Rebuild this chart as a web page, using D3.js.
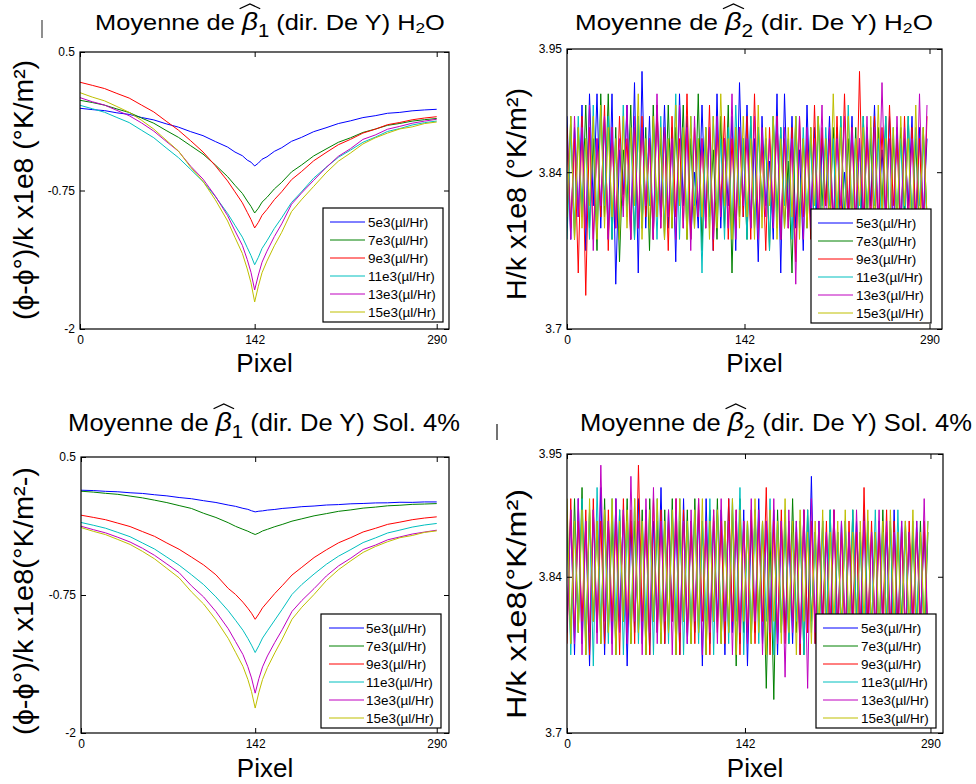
<!DOCTYPE html>
<html><head><meta charset="utf-8">
<script src="https://cdn.jsdelivr.net/npm/d3@7"></script>
<style>body{margin:0;background:#fff}svg{display:block}</style>
</head><body>
<svg id="c" width="976" height="784"></svg>
<script>
// ---------- data ----------
const seriesNames = ["5e3(µl/Hr)","7e3(µl/Hr)","9e3(µl/Hr)","11e3(µl/Hr)","13e3(µl/Hr)","15e3(µl/Hr)"];
const seriesColors = ["#0000ff","#008000","#ff0000","#00bfbf","#bf00bf","#bfbf00"];
const xTicks = [0,142,290];
const yTicksB1 = [-2,-0.75,0.5];
const yTicksB2 = [3.7,3.84,3.95];

const pixelsB1 = [0,10,20,30,40,50,60,70,80,90,100,110,120,126,132,136,139,142,145,148,152,158,164,172,180,190,200,210,220,230,240,250,260,270,280,290];

const b1H2O_5e3  = [-0.008,-0.020,-0.029,-0.049,-0.063,-0.091,-0.113,-0.148,-0.178,-0.219,-0.255,-0.308,-0.358,-0.403,-0.436,-0.476,-0.494,-0.529,-0.503,-0.468,-0.446,-0.397,-0.364,-0.306,-0.271,-0.219,-0.184,-0.146,-0.121,-0.092,-0.075,-0.053,-0.045,-0.031,-0.023,-0.017];
const b1H2O_7e3  = [0.064,0.044,0.020,-0.014,-0.046,-0.096,-0.143,-0.208,-0.270,-0.346,-0.421,-0.519,-0.625,-0.703,-0.776,-0.845,-0.893,-0.953,-0.910,-0.855,-0.812,-0.736,-0.676,-0.582,-0.521,-0.438,-0.376,-0.315,-0.274,-0.226,-0.196,-0.162,-0.145,-0.124,-0.111,-0.100];
const b1H2O_9e3  = [0.227,0.199,0.170,0.126,0.084,0.021,-0.041,-0.124,-0.205,-0.301,-0.402,-0.526,-0.664,-0.762,-0.861,-0.947,-1.012,-1.088,-1.038,-0.974,-0.921,-0.833,-0.761,-0.652,-0.580,-0.482,-0.408,-0.337,-0.288,-0.232,-0.197,-0.156,-0.136,-0.112,-0.096,-0.084];
const b1H2O_11e3 = [0.019,-0.012,-0.044,-0.091,-0.137,-0.206,-0.274,-0.365,-0.453,-0.560,-0.669,-0.804,-0.957,-1.064,-1.171,-1.266,-1.337,-1.420,-1.353,-1.273,-1.204,-1.092,-0.996,-0.858,-0.763,-0.638,-0.542,-0.451,-0.385,-0.315,-0.269,-0.217,-0.191,-0.159,-0.138,-0.123];
const b1H2O_13e3 = [0.088,0.051,0.021,-0.027,-0.075,-0.140,-0.214,-0.306,-0.395,-0.531,-0.647,-0.800,-0.977,-1.114,-1.245,-1.374,-1.488,-1.648,-1.513,-1.397,-1.298,-1.166,-1.051,-0.874,-0.774,-0.658,-0.543,-0.442,-0.372,-0.289,-0.249,-0.197,-0.171,-0.143,-0.124,-0.107];
const b1H2O_15e3 = [0.133,0.093,0.059,0.008,-0.045,-0.116,-0.196,-0.295,-0.393,-0.541,-0.667,-0.834,-1.025,-1.174,-1.318,-1.458,-1.582,-1.756,-1.614,-1.492,-1.387,-1.249,-1.127,-0.940,-0.834,-0.713,-0.591,-0.486,-0.411,-0.330,-0.275,-0.232,-0.194,-0.176,-0.146,-0.132];

const b1Sol_5e3  = [0.199,0.196,0.189,0.185,0.176,0.170,0.158,0.148,0.133,0.122,0.104,0.088,0.065,0.053,0.035,0.026,0.013,0.003,0.009,0.012,0.019,0.025,0.034,0.041,0.050,0.056,0.065,0.069,0.076,0.079,0.084,0.085,0.090,0.089,0.093,0.093];
const b1Sol_7e3  = [0.190,0.182,0.171,0.162,0.146,0.130,0.109,0.087,0.060,0.034,-0.010,-0.048,-0.095,-0.128,-0.155,-0.172,-0.188,-0.202,-0.188,-0.170,-0.155,-0.131,-0.111,-0.081,-0.060,-0.033,-0.013,0.008,0.021,0.037,0.046,0.058,0.063,0.071,0.074,0.078];
const b1Sol_9e3  = [-0.027,-0.047,-0.068,-0.099,-0.130,-0.175,-0.219,-0.279,-0.336,-0.406,-0.478,-0.567,-0.690,-0.745,-0.815,-0.870,-0.915,-0.970,-0.921,-0.866,-0.814,-0.736,-0.666,-0.569,-0.499,-0.411,-0.341,-0.277,-0.230,-0.179,-0.146,-0.110,-0.090,-0.068,-0.053,-0.042];
const b1Sol_11e3 = [-0.093,-0.118,-0.145,-0.183,-0.222,-0.278,-0.334,-0.407,-0.480,-0.566,-0.656,-0.767,-0.892,-0.979,-1.069,-1.143,-1.204,-1.271,-1.209,-1.140,-1.074,-0.977,-0.880,-0.745,-0.655,-0.560,-0.472,-0.398,-0.338,-0.275,-0.233,-0.188,-0.162,-0.135,-0.116,-0.102];
const b1Sol_13e3 = [-0.127,-0.158,-0.187,-0.227,-0.270,-0.326,-0.391,-0.469,-0.548,-0.666,-0.768,-0.900,-1.055,-1.172,-1.289,-1.399,-1.501,-1.639,-1.508,-1.401,-1.302,-1.179,-1.065,-0.899,-0.800,-0.692,-0.578,-0.486,-0.416,-0.338,-0.298,-0.250,-0.224,-0.198,-0.180,-0.163];
const b1Sol_15e3 = [-0.139,-0.173,-0.203,-0.247,-0.292,-0.354,-0.423,-0.509,-0.595,-0.721,-0.832,-0.975,-1.143,-1.269,-1.396,-1.514,-1.625,-1.774,-1.632,-1.515,-1.407,-1.274,-1.150,-0.970,-0.861,-0.745,-0.620,-0.520,-0.440,-0.364,-0.311,-0.267,-0.231,-0.211,-0.183,-0.169];

const pixelsB2 = [0,3,6,9,12,15,18,21,24,27,30,33,36,39,42,45,48,51,54,57,60,63,66,69,72,75,78,81,84,87,90,93,96,99,102,105,108,111,114,117,120,123,126,129,132,135,138,141,144,147,150,153,156,159,162,165,168,171,174,177,180,183,186,189,192,195,198,201,204,207,210,213,216,219,222,225,228,231,234,237,240,243,246,249,252,255,258,261,264,267,270,273,276,279,282,285,288];

const b2H2O_5e3 = [3.89,3.78,3.88,3.80,3.90,3.77,3.91,3.81,3.91,3.79,3.89,3.78,3.91,3.74,3.86,3.82,3.90,3.78,3.92,3.75,3.93,3.79,3.89,3.78,3.90,3.80,3.90,3.79,3.88,3.76,3.91,3.81,3.89,3.78,3.84,3.79,3.90,3.80,3.88,3.77,3.91,3.79,3.87,3.81,3.89,3.77,3.92,3.80,3.90,3.79,3.87,3.76,3.89,3.81,3.85,3.78,3.91,3.75,3.91,3.80,3.89,3.79,3.86,3.77,3.90,3.80,3.88,3.74,3.87,3.81,3.89,3.79,3.88,3.78,3.84,3.80,3.89,3.79,3.87,3.77,3.88,3.81,3.90,3.79,3.86,3.80,3.89,3.78,3.88,3.79,3.87,3.81,3.89,3.78,3.88,3.80,3.87];
const b2H2O_7e3 = [3.79,3.89,3.78,3.88,3.80,3.90,3.79,3.87,3.77,3.91,3.80,3.91,3.78,3.88,3.76,3.86,3.81,3.90,3.78,3.89,3.79,3.88,3.77,3.90,3.80,3.87,3.78,3.90,3.79,3.88,3.81,3.90,3.78,3.87,3.79,3.91,3.77,3.88,3.80,3.86,3.78,3.89,3.79,3.90,3.75,3.88,3.80,3.87,3.78,3.89,3.79,3.88,3.81,3.87,3.77,3.89,3.80,3.88,3.79,3.85,3.75,3.89,3.80,3.87,3.79,3.88,3.78,3.89,3.81,3.87,3.79,3.88,3.78,3.89,3.80,3.87,3.79,3.88,3.76,3.89,3.80,3.87,3.79,3.88,3.81,3.89,3.78,3.87,3.79,3.88,3.80,3.89,3.79,3.87,3.78,3.88,3.80];
const b2H2O_9e3 = [3.88,3.79,3.87,3.75,3.89,3.73,3.88,3.78,3.87,3.80,3.90,3.77,3.88,3.79,3.89,3.81,3.87,3.78,3.88,3.79,3.89,3.80,3.87,3.78,3.90,3.79,3.88,3.77,3.89,3.80,3.87,3.79,3.91,3.78,3.88,3.80,3.87,3.79,3.90,3.77,3.88,3.81,3.89,3.78,3.87,3.79,3.88,3.80,3.89,3.78,3.91,3.79,3.87,3.77,3.88,3.80,3.89,3.78,3.87,3.79,3.88,3.76,3.89,3.80,3.87,3.78,3.90,3.79,3.88,3.81,3.87,3.78,3.89,3.79,3.91,3.80,3.88,3.78,3.93,3.79,3.87,3.80,3.89,3.78,3.88,3.79,3.90,3.81,3.87,3.78,3.89,3.79,3.88,3.80,3.87,3.78,3.89];
const b2H2O_11e3 = [3.78,3.88,3.79,3.89,3.80,3.87,3.78,3.90,3.79,3.90,3.81,3.89,3.78,3.87,3.79,3.90,3.80,3.88,3.78,3.89,3.79,3.87,3.81,3.88,3.78,3.89,3.79,3.87,3.80,3.91,3.78,3.88,3.79,3.89,3.81,3.87,3.75,3.88,3.79,3.89,3.80,3.87,3.78,3.88,3.79,3.90,3.81,3.87,3.78,3.89,3.79,3.88,3.80,3.87,3.77,3.89,3.79,3.88,3.81,3.87,3.78,3.89,3.79,3.88,3.80,3.87,3.78,3.89,3.79,3.88,3.81,3.87,3.78,3.89,3.79,3.90,3.80,3.87,3.78,3.89,3.79,3.88,3.81,3.87,3.78,3.89,3.79,3.88,3.80,3.87,3.78,3.89,3.79,3.88,3.81,3.87,3.79];
const b2H2O_13e3 = [3.87,3.78,3.89,3.80,3.88,3.79,3.90,3.77,3.87,3.81,3.89,3.78,3.88,3.79,3.87,3.80,3.90,3.78,3.89,3.79,3.88,3.81,3.87,3.78,3.91,3.79,3.88,3.80,3.87,3.78,3.90,3.79,3.88,3.77,3.89,3.80,3.87,3.79,3.88,3.78,3.89,3.80,3.87,3.79,3.91,3.78,3.88,3.81,3.87,3.79,3.89,3.78,3.88,3.80,3.87,3.79,3.89,3.78,3.88,3.79,3.87,3.74,3.89,3.78,3.88,3.79,3.87,3.80,3.90,3.78,3.88,3.79,3.87,3.81,3.89,3.78,3.88,3.79,3.87,3.80,3.89,3.78,3.88,3.79,3.92,3.80,3.87,3.78,3.89,3.79,3.88,3.80,3.87,3.78,3.91,3.79,3.90];
const b2H2O_15e3 = [3.80,3.89,3.78,3.88,3.79,3.87,3.81,3.89,3.78,3.90,3.79,3.88,3.80,3.87,3.78,3.89,3.79,3.88,3.81,3.91,3.78,3.87,3.79,3.89,3.80,3.88,3.78,3.87,3.79,3.90,3.81,3.88,3.78,3.89,3.79,3.87,3.80,3.88,3.78,3.89,3.79,3.91,3.81,3.87,3.78,3.88,3.79,3.89,3.80,3.87,3.78,3.90,3.79,3.88,3.81,3.89,3.78,3.87,3.79,3.88,3.80,3.89,3.78,3.87,3.79,3.88,3.81,3.89,3.78,3.87,3.79,3.91,3.80,3.88,3.78,3.89,3.79,3.87,3.81,3.88,3.78,3.89,3.79,3.90,3.80,3.87,3.78,3.88,3.79,3.89,3.81,3.87,3.78,3.90,3.79,3.88,3.80];

const b2Sol_5e3 = [3.79,3.90,3.77,3.91,3.78,3.89,3.76,3.90,3.79,3.92,3.77,3.89,3.78,3.91,3.80,3.90,3.76,3.89,3.79,3.91,3.78,3.90,3.77,3.89,3.79,3.92,3.78,3.90,3.80,3.89,3.77,3.91,3.78,3.89,3.79,3.90,3.76,3.91,3.78,3.89,3.80,3.90,3.77,3.91,3.79,3.89,3.78,3.90,3.76,3.89,3.79,3.91,3.78,3.89,3.80,3.90,3.77,3.89,3.79,3.88,3.78,3.89,3.77,3.90,3.79,3.93,3.78,3.89,3.80,3.88,3.77,3.90,3.79,3.89,3.78,3.88,3.80,3.89,3.77,3.90,3.79,3.88,3.78,3.89,3.80,3.88,3.77,3.90,3.79,3.89,3.78,3.88,3.79,3.89,3.80,3.88,3.78];
const b2Sol_7e3 = [3.89,3.78,3.91,3.79,3.92,3.77,3.90,3.80,3.89,3.78,3.91,3.79,3.89,3.77,3.90,3.80,3.91,3.78,3.89,3.79,3.90,3.77,3.91,3.80,3.89,3.78,3.90,3.79,3.91,3.77,3.89,3.80,3.90,3.78,3.91,3.79,3.89,3.77,3.90,3.80,3.91,3.78,3.89,3.79,3.90,3.76,3.91,3.79,3.89,3.78,3.90,3.80,3.89,3.74,3.88,3.73,3.90,3.79,3.89,3.78,3.91,3.79,3.89,3.77,3.90,3.80,3.88,3.78,3.89,3.79,3.90,3.77,3.88,3.79,3.89,3.78,3.90,3.80,3.88,3.77,3.89,3.79,3.88,3.78,3.90,3.79,3.89,3.77,3.88,3.80,3.89,3.78,3.88,3.79,3.89,3.78,3.88];
const b2Sol_9e3 = [3.78,3.91,3.79,3.89,3.80,3.90,3.77,3.91,3.79,3.89,3.78,3.90,3.80,3.89,3.77,3.91,3.79,3.90,3.78,3.94,3.80,3.89,3.77,3.91,3.79,3.90,3.78,3.89,3.80,3.91,3.77,3.90,3.79,3.89,3.78,3.91,3.80,3.89,3.77,3.90,3.79,3.89,3.78,3.91,3.80,3.90,3.77,3.89,3.79,3.90,3.78,3.89,3.80,3.92,3.77,3.89,3.79,3.90,3.78,3.89,3.80,3.88,3.77,3.90,3.79,3.89,3.78,3.88,3.80,3.89,3.77,3.90,3.79,3.88,3.78,3.89,3.80,3.88,3.77,3.92,3.79,3.89,3.78,3.88,3.80,3.90,3.77,3.89,3.79,3.88,3.78,3.89,3.80,3.88,3.79,3.89,3.78];
const b2Sol_11e3 = [3.90,3.77,3.89,3.79,3.91,3.78,3.90,3.76,3.92,3.79,3.89,3.78,3.91,3.80,3.90,3.77,3.89,3.79,3.91,3.78,3.89,3.80,3.90,3.77,3.91,3.79,3.89,3.78,3.90,3.80,3.91,3.77,3.89,3.79,3.90,3.78,3.89,3.80,3.91,3.77,3.90,3.79,3.89,3.78,3.91,3.80,3.92,3.77,3.89,3.79,3.90,3.78,3.89,3.80,3.91,3.77,3.89,3.79,3.90,3.78,3.88,3.80,3.89,3.77,3.90,3.79,3.88,3.78,3.89,3.80,3.90,3.77,3.88,3.79,3.89,3.78,3.90,3.80,3.88,3.77,3.89,3.79,3.90,3.78,3.88,3.80,3.89,3.77,3.90,3.79,3.88,3.78,3.89,3.80,3.88,3.79,3.89];
const b2Sol_13e3 = [3.79,3.90,3.78,3.91,3.77,3.89,3.79,3.90,3.78,3.94,3.80,3.89,3.77,3.91,3.79,3.90,3.78,3.93,3.80,3.89,3.77,3.91,3.79,3.92,3.78,3.89,3.80,3.90,3.77,3.91,3.79,3.89,3.78,3.90,3.80,3.91,3.77,3.89,3.79,3.90,3.78,3.91,3.80,3.89,3.77,3.90,3.79,3.89,3.78,3.91,3.80,3.90,3.77,3.89,3.79,3.91,3.78,3.89,3.75,3.90,3.79,3.89,3.78,3.90,3.74,3.91,3.79,3.89,3.78,3.88,3.80,3.90,3.77,3.89,3.79,3.88,3.78,3.90,3.80,3.89,3.77,3.88,3.79,3.90,3.78,3.89,3.80,3.88,3.77,3.89,3.79,3.88,3.78,3.89,3.79,3.91,3.78];
const b2Sol_15e3 = [3.91,3.78,3.89,3.79,3.90,3.77,3.91,3.80,3.89,3.78,3.90,3.79,3.91,3.77,3.89,3.80,3.90,3.78,3.91,3.79,3.89,3.77,3.90,3.80,3.91,3.78,3.89,3.79,3.90,3.77,3.91,3.80,3.89,3.78,3.90,3.79,3.91,3.77,3.89,3.80,3.90,3.78,3.89,3.79,3.91,3.77,3.90,3.80,3.89,3.78,3.91,3.79,3.89,3.77,3.90,3.80,3.89,3.78,3.91,3.79,3.89,3.77,3.90,3.80,3.88,3.78,3.89,3.79,3.90,3.77,3.88,3.80,3.89,3.78,3.90,3.79,3.88,3.77,3.89,3.80,3.90,3.78,3.88,3.79,3.89,3.77,3.90,3.80,3.88,3.78,3.89,3.79,3.90,3.77,3.88,3.80,3.89];

// ---------- layout ----------
const FONT = "'Liberation Sans', Arial, Helvetica, sans-serif";
const panels = [
  {l:80, r:449, t:52, b:329, yDomain:[-2,0.5], yTicks:yTicksB1, xs:pixelsB1,
   series:[b1H2O_5e3,b1H2O_7e3,b1H2O_9e3,b1H2O_11e3,b1H2O_13e3,b1H2O_15e3],
   title:{cx:270, y:30, size:22, w:350, sub:"1", tail:"H2O"},
   ylabel:"(ϕ-ϕ°)/k x1e8 (°K/m²)", ylx:33, ylc:190, yll:260,
   leg:{x:323,y:208,lx:330,tx:368}, xlabY:372},
  {l:567, r:942, t:49, b:329, yDomain:[3.7,3.95], yTicks:yTicksB2, xs:pixelsB2,
   series:[b2H2O_5e3,b2H2O_7e3,b2H2O_9e3,b2H2O_11e3,b2H2O_13e3,b2H2O_15e3],
   title:{cx:754, y:30, size:22, w:358, sub:"2", tail:"H2O"},
   ylabel:"H/k x1e8 (°K/m²)", ylx:526, ylc:194, yll:212,
   leg:{x:811,y:209,lx:818,tx:856}, xlabY:372},
  {l:81, r:449, t:457, b:733, yDomain:[-2,0.5], yTicks:yTicksB1, xs:pixelsB1,
   series:[b1Sol_5e3,b1Sol_7e3,b1Sol_9e3,b1Sol_11e3,b1Sol_13e3,b1Sol_15e3],
   title:{cx:264, y:431, size:23, w:392, sub:"1", tail:"Sol. 4%"},
   ylabel:"(ϕ-ϕ°)/k x1e8(°K/m²-)", ylx:33, ylc:601, yll:268,
   leg:{x:321,y:614,lx:329,tx:366}, xlabY:777},
  {l:567, r:943, t:454, b:733, yDomain:[3.7,3.95], yTicks:yTicksB2, xs:pixelsB2,
   series:[b2Sol_5e3,b2Sol_7e3,b2Sol_9e3,b2Sol_11e3,b2Sol_13e3,b2Sol_15e3],
   title:{cx:776, y:431, size:23, w:392, sub:"2", tail:"Sol. 4%"},
   ylabel:"H/k x1e8(°K/m²)", ylx:526, ylc:604, yll:230,
   leg:{x:816,y:614,lx:823,tx:861}, xlabY:777}
];

const svg = d3.select("#c").style("font-family", FONT);
svg.append("rect").attr("width",976).attr("height",784).attr("fill","#fff");

panels.forEach((p, i) => {
  const x = d3.scaleLinear().domain([0,300]).range([p.l, p.r]);
  const y = d3.scaleLinear().domain(p.yDomain).range([p.b, p.t]);
  const g = svg.append("g");

  svg.append("clipPath").attr("id","clip"+i).append("rect")
    .attr("x",p.l).attr("y",p.t).attr("width",p.r-p.l).attr("height",p.b-p.t);

  const line = d3.line().x((d,j) => x(p.xs[j])).y(d => y(d));
  const lines = g.append("g").attr("clip-path",`url(#clip${i})`);
  p.series.forEach((s,k) => {
    lines.append("path").datum(s).attr("d", line)
      .attr("fill","none").attr("stroke", seriesColors[k]).attr("stroke-width",1);
  });

  // axes (inward ticks, mirrored)
  const fmt = d => String(d);
  const ax = g.append("g");
  ax.append("g").attr("transform",`translate(0,${p.b})`)
    .call(d3.axisBottom(x).tickValues(xTicks).tickSizeInner(-5).tickSizeOuter(0).tickPadding(6).tickFormat(fmt));
  ax.append("g").attr("transform",`translate(0,${p.t})`)
    .call(d3.axisTop(x).tickValues(xTicks).tickSizeInner(-5).tickSizeOuter(0).tickFormat(""));
  ax.append("g").attr("transform",`translate(${p.l},0)`)
    .call(d3.axisLeft(y).tickValues(p.yTicks).tickSizeInner(-5).tickSizeOuter(0).tickPadding(5).tickFormat(fmt));
  ax.append("g").attr("transform",`translate(${p.r},0)`)
    .call(d3.axisRight(y).tickValues(p.yTicks).tickSizeInner(-5).tickSizeOuter(0).tickFormat(""));
  ax.selectAll("text").attr("font-size",12).attr("fill","#000").attr("font-family",FONT);
  ax.selectAll(".domain").remove();
  ax.selectAll(".tick line").attr("stroke","#000");

  g.append("rect").attr("x",p.l).attr("y",p.t).attr("width",p.r-p.l).attr("height",p.b-p.t)
    .attr("fill","none").attr("stroke","#000").attr("stroke-width",1.2);

  // legend
  const L = p.leg;
  const lg = g.append("g");
  lg.append("rect").attr("x",L.x).attr("y",L.y).attr("width",120).attr("height",114)
    .attr("fill","#fff").attr("stroke","#000").attr("stroke-width",1.2);
  seriesNames.forEach((n,k) => {
    const ry = L.y + 14 + k*18;
    lg.append("line").attr("x1",L.lx).attr("x2",L.lx+35).attr("y1",ry).attr("y2",ry)
      .attr("stroke",seriesColors[k]).attr("stroke-width",1);
    lg.append("text").attr("x",L.tx).attr("y",ry).attr("dy","0.36em")
      .attr("font-size",13.5).text(n);
  });

  // x label
  g.append("text").attr("x",(p.l+p.r)/2).attr("y",p.xlabY).attr("text-anchor","middle")
    .attr("font-size",26).text("Pixel");

  // y label
  g.append("text").attr("transform",`translate(${p.ylx},${p.ylc}) rotate(-90)`)
    .attr("text-anchor","middle").attr("font-size",27)
    .attr("textLength",p.yll).attr("lengthAdjust","spacingAndGlyphs").text(p.ylabel);

  // title
  const T = p.title;
  const tg = g.append("g");
  const t = tg.append("text").attr("x",T.cx).attr("y",T.y).attr("text-anchor","middle")
    .attr("font-size",T.size);
  t.append("tspan").text("Moyenne de ");
  t.append("tspan").attr("font-style","italic").attr("font-size",T.size*1.1).text("β");
  t.append("tspan").attr("dy",7).attr("font-size",T.size*0.8).text(T.sub);
  if (T.tail === "H2O") {
    t.append("tspan").attr("dy",-7).text(" (dir. De Y) H");
    t.append("tspan").attr("dy",3).attr("font-size",T.size*0.68).text("2");
    t.append("tspan").attr("dy",-3).text("O");
  } else {
    t.append("tspan").attr("dy",-7).text(" (dir. De Y) " + T.tail);
  }
  const bb = t.node().getBBox();
  const sx = T.w / bb.width;
  const cxb = bb.x + bb.width/2;
  tg.attr("transform",`translate(${T.cx},0) scale(${sx},1) translate(${-cxb},0)`);
  const ext = t.node().getExtentOfChar(11);
  const hx0 = ext.x - 2, hx1 = ext.x + ext.width + 2;
  const hApex = T.y - T.size*1.18, hEnd = T.y - T.size*0.97;
  tg.append("path").attr("d",`M${hx0},${hEnd}L${(hx0+hx1)/2},${hApex}L${hx1},${hEnd}`)
    .attr("fill","none").attr("stroke","#000").attr("stroke-width",1.2);
});

// small stray marks present in the original figure
svg.append("line").attr("x1",42).attr("x2",42).attr("y1",20).attr("y2",38).attr("stroke","#444").attr("stroke-width",1.2);
svg.append("line").attr("x1",497).attr("x2",497).attr("y1",424).attr("y2",440).attr("stroke","#444").attr("stroke-width",1.5);
</script>
</body></html>
